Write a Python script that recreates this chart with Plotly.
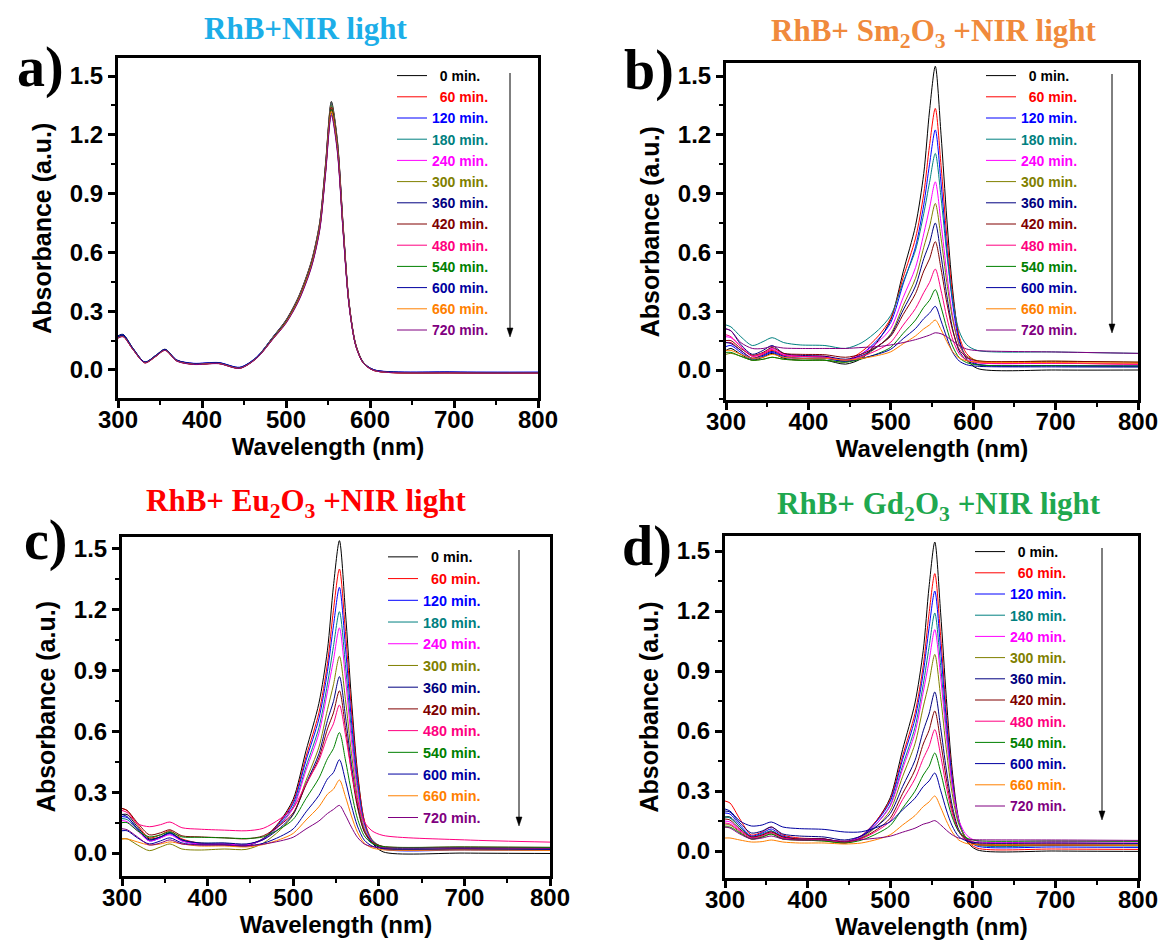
import plotly.graph_objects as go

# ---------------- data ----------------
wavelength = [300, 306, 318, 332, 345, 356, 370, 390, 420, 445, 465, 485, 500,
              515, 530, 540, 547, 554, 561, 568, 575, 583, 592, 605, 700, 800]

times = ["0 min.", "60 min.", "120 min.", "180 min.", "240 min.", "300 min.",
         "360 min.", "420 min.", "480 min.", "540 min.", "600 min.", "660 min.",
         "720 min."]

# panel a) RhB + NIR light
absorbance_a = [
    [0.175, 0.182, 0.110, 0.040, 0.075, 0.106, 0.050, 0.032, 0.036, 0.012, 0.065, 0.172, 0.255, 0.375, 0.552, 0.750, 1.050, 1.370, 1.180, 0.742, 0.350, 0.132, 0.040, 0.000, -0.012, -0.013],
    [0.168, 0.176, 0.106, 0.038, 0.072, 0.104, 0.048, 0.030, 0.034, 0.010, 0.063, 0.170, 0.252, 0.372, 0.548, 0.745, 1.042, 1.360, 1.172, 0.736, 0.346, 0.130, 0.038, -0.002, -0.014, -0.015],
    [0.172, 0.180, 0.109, 0.041, 0.074, 0.105, 0.051, 0.034, 0.038, 0.014, 0.066, 0.171, 0.251, 0.369, 0.543, 0.738, 1.034, 1.350, 1.163, 0.730, 0.343, 0.128, 0.039, 0.001, -0.010, -0.011],
    [0.170, 0.178, 0.108, 0.039, 0.073, 0.104, 0.049, 0.031, 0.035, 0.011, 0.064, 0.169, 0.250, 0.370, 0.546, 0.743, 1.040, 1.360, 1.170, 0.735, 0.345, 0.129, 0.038, -0.001, -0.013, -0.014],
    [0.166, 0.174, 0.105, 0.037, 0.071, 0.102, 0.047, 0.030, 0.034, 0.010, 0.062, 0.166, 0.247, 0.365, 0.538, 0.731, 1.025, 1.340, 1.153, 0.724, 0.341, 0.127, 0.037, -0.002, -0.014, -0.015],
    [0.169, 0.177, 0.107, 0.039, 0.072, 0.103, 0.049, 0.031, 0.035, 0.011, 0.063, 0.168, 0.249, 0.367, 0.541, 0.736, 1.032, 1.350, 1.161, 0.729, 0.343, 0.128, 0.038, -0.001, -0.013, -0.014],
    [0.167, 0.175, 0.106, 0.038, 0.071, 0.103, 0.048, 0.030, 0.034, 0.010, 0.061, 0.164, 0.244, 0.360, 0.532, 0.725, 1.017, 1.330, 1.144, 0.718, 0.338, 0.126, 0.037, -0.002, -0.014, -0.016],
    [0.165, 0.173, 0.104, 0.037, 0.070, 0.101, 0.047, 0.029, 0.033, 0.009, 0.061, 0.165, 0.246, 0.363, 0.536, 0.730, 1.025, 1.340, 1.152, 0.723, 0.340, 0.127, 0.037, -0.003, -0.015, -0.016],
    [0.164, 0.172, 0.104, 0.037, 0.070, 0.101, 0.046, 0.029, 0.033, 0.009, 0.060, 0.162, 0.242, 0.357, 0.528, 0.719, 1.009, 1.320, 1.135, 0.713, 0.336, 0.125, 0.036, -0.003, -0.015, -0.017],
    [0.166, 0.174, 0.105, 0.038, 0.071, 0.102, 0.047, 0.030, 0.034, 0.010, 0.061, 0.164, 0.245, 0.360, 0.532, 0.725, 1.017, 1.330, 1.144, 0.718, 0.338, 0.126, 0.037, -0.002, -0.014, -0.015],
    [0.170, 0.178, 0.108, 0.040, 0.074, 0.104, 0.050, 0.033, 0.037, 0.013, 0.063, 0.163, 0.242, 0.355, 0.525, 0.715, 1.003, 1.310, 1.127, 0.708, 0.334, 0.125, 0.038, 0.000, -0.011, -0.012],
    [0.163, 0.171, 0.103, 0.036, 0.069, 0.100, 0.046, 0.029, 0.033, 0.009, 0.060, 0.162, 0.242, 0.357, 0.528, 0.719, 1.009, 1.320, 1.135, 0.713, 0.336, 0.125, 0.036, -0.003, -0.015, -0.016],
    [0.162, 0.170, 0.103, 0.036, 0.069, 0.100, 0.045, 0.028, 0.032, 0.008, 0.059, 0.160, 0.238, 0.351, 0.520, 0.709, 0.995, 1.300, 1.118, 0.702, 0.331, 0.123, 0.035, -0.003, -0.015, -0.016],
]

# panel b) RhB + Sm2O3 + NIR light
absorbance_b = [
    [0.10, 0.11, 0.08, 0.05, 0.065, 0.085, 0.06, 0.05, 0.05, 0.03, 0.06, 0.152, 0.258, 0.501, 0.737, 1.003, 1.322, 1.55, 1.20, 0.77, 0.412, 0.16, 0.055, 0.008, 0.0, 0.0],
    [0.14, 0.14, 0.10, 0.06, 0.08, 0.10, 0.075, 0.07, 0.07, 0.05, 0.095, 0.174, 0.265, 0.472, 0.673, 0.90, 1.145, 1.335, 1.042, 0.681, 0.382, 0.173, 0.084, 0.045, 0.035, 0.03],
    [0.12, 0.125, 0.09, 0.055, 0.07, 0.09, 0.065, 0.06, 0.06, 0.045, 0.083, 0.158, 0.243, 0.439, 0.629, 0.843, 1.05, 1.225, 0.954, 0.618, 0.34, 0.147, 0.066, 0.03, 0.022, 0.02],
    [0.23, 0.22, 0.17, 0.125, 0.145, 0.165, 0.14, 0.128, 0.125, 0.11, 0.14, 0.205, 0.279, 0.448, 0.612, 0.798, 0.957, 1.105, 0.878, 0.593, 0.361, 0.198, 0.129, 0.10, 0.092, 0.085],
    [0.17, 0.165, 0.12, 0.07, 0.085, 0.11, 0.08, 0.07, 0.068, 0.05, 0.083, 0.144, 0.213, 0.37, 0.523, 0.695, 0.826, 0.96, 0.748, 0.493, 0.277, 0.129, 0.066, 0.039, 0.035, 0.03],
    [0.08, 0.085, 0.07, 0.05, 0.055, 0.065, 0.055, 0.05, 0.05, 0.04, 0.066, 0.122, 0.185, 0.329, 0.468, 0.626, 0.73, 0.85, 0.672, 0.446, 0.261, 0.129, 0.073, 0.048, 0.045, 0.04],
    [0.21, 0.20, 0.13, 0.08, 0.10, 0.125, 0.085, 0.075, 0.07, 0.055, 0.074, 0.123, 0.179, 0.306, 0.429, 0.568, 0.647, 0.75, 0.583, 0.38, 0.211, 0.097, 0.049, 0.028, 0.022, 0.02],
    [0.15, 0.15, 0.11, 0.075, 0.09, 0.115, 0.085, 0.08, 0.078, 0.065, 0.082, 0.125, 0.173, 0.283, 0.39, 0.505, 0.567, 0.655, 0.516, 0.343, 0.203, 0.106, 0.065, 0.047, 0.045, 0.04],
    [0.18, 0.17, 0.12, 0.07, 0.085, 0.105, 0.075, 0.07, 0.065, 0.05, 0.069, 0.104, 0.142, 0.229, 0.314, 0.395, 0.447, 0.515, 0.405, 0.268, 0.158, 0.083, 0.051, 0.037, 0.035, 0.03],
    [0.09, 0.09, 0.07, 0.05, 0.055, 0.065, 0.055, 0.05, 0.05, 0.04, 0.057, 0.085, 0.116, 0.187, 0.255, 0.32, 0.356, 0.41, 0.321, 0.212, 0.122, 0.063, 0.038, 0.026, 0.022, 0.02],
    [0.14, 0.135, 0.10, 0.06, 0.075, 0.095, 0.07, 0.06, 0.06, 0.045, 0.06, 0.082, 0.106, 0.16, 0.212, 0.262, 0.29, 0.325, 0.251, 0.165, 0.091, 0.046, 0.027, 0.019, 0.016, 0.015],
    [0.10, 0.10, 0.08, 0.06, 0.065, 0.08, 0.065, 0.06, 0.06, 0.05, 0.059, 0.075, 0.093, 0.134, 0.174, 0.21, 0.23, 0.255, 0.206, 0.145, 0.094, 0.061, 0.047, 0.041, 0.038, 0.035],
    [0.21, 0.20, 0.14, 0.11, 0.11, 0.12, 0.112, 0.11, 0.11, 0.11, 0.115, 0.12, 0.128, 0.14, 0.155, 0.168, 0.178, 0.19, 0.185, 0.17, 0.148, 0.125, 0.107, 0.099, 0.092, 0.085],
]

# panel c) RhB + Eu2O3 + NIR light
absorbance_c = [
    [0.19, 0.19, 0.13, 0.07, 0.08, 0.10, 0.065, 0.045, 0.04, 0.035, 0.07, 0.16, 0.265, 0.505, 0.738, 1.0, 1.315, 1.54, 1.19, 0.76, 0.405, 0.158, 0.053, 0.006, 0.0, -0.002],
    [0.22, 0.21, 0.14, 0.075, 0.09, 0.11, 0.07, 0.05, 0.045, 0.04, 0.072, 0.156, 0.254, 0.476, 0.691, 0.934, 1.197, 1.40, 1.092, 0.706, 0.386, 0.162, 0.067, 0.025, 0.02, 0.018],
    [0.18, 0.175, 0.12, 0.06, 0.075, 0.095, 0.06, 0.045, 0.045, 0.04, 0.07, 0.151, 0.244, 0.457, 0.662, 0.895, 1.12, 1.31, 1.017, 0.655, 0.357, 0.148, 0.059, 0.02, 0.015, 0.013],
    [0.17, 0.165, 0.115, 0.065, 0.08, 0.10, 0.065, 0.05, 0.048, 0.04, 0.068, 0.143, 0.229, 0.426, 0.618, 0.833, 1.018, 1.19, 0.928, 0.603, 0.334, 0.145, 0.065, 0.03, 0.027, 0.025],
    [0.16, 0.155, 0.11, 0.06, 0.075, 0.09, 0.06, 0.045, 0.045, 0.04, 0.066, 0.139, 0.221, 0.408, 0.59, 0.795, 0.95, 1.11, 0.863, 0.558, 0.308, 0.132, 0.057, 0.024, 0.02, 0.018],
    [0.07, 0.07, 0.04, 0.012, 0.03, 0.045, 0.02, 0.015, 0.02, 0.018, 0.049, 0.115, 0.189, 0.358, 0.522, 0.707, 0.829, 0.97, 0.758, 0.492, 0.274, 0.119, 0.053, 0.024, 0.02, 0.02],
    [0.19, 0.18, 0.12, 0.065, 0.08, 0.10, 0.065, 0.05, 0.05, 0.045, 0.066, 0.125, 0.191, 0.342, 0.489, 0.654, 0.747, 0.87, 0.675, 0.438, 0.241, 0.106, 0.049, 0.023, 0.02, 0.018],
    [0.22, 0.21, 0.15, 0.09, 0.10, 0.115, 0.085, 0.08, 0.075, 0.07, 0.085, 0.139, 0.198, 0.336, 0.469, 0.612, 0.691, 0.80, 0.619, 0.405, 0.227, 0.107, 0.056, 0.033, 0.03, 0.028],
    [0.21, 0.20, 0.145, 0.13, 0.14, 0.153, 0.125, 0.118, 0.113, 0.11, 0.122, 0.17, 0.222, 0.341, 0.456, 0.575, 0.637, 0.73, 0.584, 0.405, 0.257, 0.155, 0.11, 0.087, 0.065, 0.054],
    [0.15, 0.15, 0.11, 0.08, 0.09, 0.105, 0.08, 0.078, 0.075, 0.072, 0.08, 0.121, 0.166, 0.269, 0.369, 0.465, 0.515, 0.594, 0.459, 0.302, 0.171, 0.085, 0.048, 0.032, 0.03, 0.028],
    [0.11, 0.11, 0.075, 0.045, 0.06, 0.075, 0.05, 0.04, 0.04, 0.035, 0.048, 0.082, 0.119, 0.203, 0.284, 0.365, 0.397, 0.46, 0.358, 0.235, 0.133, 0.064, 0.035, 0.022, 0.02, 0.018],
    [0.07, 0.07, 0.055, 0.04, 0.045, 0.055, 0.045, 0.035, 0.035, 0.03, 0.042, 0.068, 0.097, 0.163, 0.228, 0.29, 0.315, 0.36, 0.279, 0.183, 0.103, 0.049, 0.026, 0.016, 0.015, 0.013],
    [0.12, 0.115, 0.08, 0.04, 0.05, 0.065, 0.045, 0.04, 0.04, 0.035, 0.044, 0.06, 0.078, 0.119, 0.158, 0.195, 0.215, 0.235, 0.187, 0.128, 0.078, 0.045, 0.032, 0.026, 0.025, 0.023],
]

# panel d) RhB + Gd2O3 + NIR light
absorbance_d = [
    [0.17, 0.17, 0.12, 0.07, 0.08, 0.10, 0.07, 0.06, 0.06, 0.04, 0.07, 0.16, 0.266, 0.507, 0.74, 1.003, 1.319, 1.545, 1.194, 0.763, 0.406, 0.158, 0.053, 0.006, 0.0, -0.002],
    [0.25, 0.24, 0.16, 0.08, 0.095, 0.12, 0.08, 0.065, 0.06, 0.045, 0.077, 0.16, 0.256, 0.475, 0.688, 0.927, 1.186, 1.387, 1.078, 0.691, 0.371, 0.15, 0.057, 0.015, 0.01, 0.008],
    [0.19, 0.185, 0.13, 0.075, 0.09, 0.11, 0.075, 0.06, 0.06, 0.045, 0.075, 0.155, 0.247, 0.457, 0.66, 0.89, 1.113, 1.30, 1.01, 0.652, 0.358, 0.151, 0.064, 0.025, 0.02, 0.018],
    [0.17, 0.165, 0.12, 0.07, 0.085, 0.10, 0.07, 0.06, 0.055, 0.04, 0.068, 0.143, 0.229, 0.426, 0.618, 0.833, 1.018, 1.19, 0.928, 0.603, 0.334, 0.145, 0.065, 0.03, 0.027, 0.025],
    [0.15, 0.145, 0.105, 0.065, 0.08, 0.095, 0.065, 0.06, 0.055, 0.045, 0.071, 0.143, 0.224, 0.41, 0.591, 0.794, 0.948, 1.107, 0.872, 0.575, 0.33, 0.156, 0.082, 0.049, 0.047, 0.045],
    [0.13, 0.13, 0.095, 0.06, 0.07, 0.085, 0.06, 0.055, 0.05, 0.04, 0.064, 0.129, 0.203, 0.372, 0.536, 0.72, 0.842, 0.983, 0.772, 0.506, 0.288, 0.133, 0.068, 0.039, 0.036, 0.034],
    [0.20, 0.195, 0.14, 0.09, 0.10, 0.12, 0.085, 0.075, 0.07, 0.055, 0.075, 0.128, 0.187, 0.322, 0.453, 0.601, 0.685, 0.795, 0.618, 0.405, 0.228, 0.107, 0.056, 0.033, 0.03, 0.028],
    [0.16, 0.155, 0.11, 0.07, 0.08, 0.095, 0.07, 0.06, 0.06, 0.045, 0.063, 0.111, 0.164, 0.287, 0.405, 0.535, 0.603, 0.70, 0.547, 0.36, 0.206, 0.098, 0.053, 0.033, 0.03, 0.028],
    [0.14, 0.135, 0.10, 0.065, 0.075, 0.09, 0.065, 0.055, 0.055, 0.04, 0.061, 0.103, 0.15, 0.257, 0.361, 0.462, 0.523, 0.607, 0.479, 0.321, 0.19, 0.098, 0.059, 0.042, 0.04, 0.038],
    [0.12, 0.12, 0.09, 0.06, 0.07, 0.085, 0.06, 0.055, 0.05, 0.04, 0.054, 0.089, 0.127, 0.214, 0.299, 0.38, 0.423, 0.49, 0.395, 0.273, 0.17, 0.097, 0.066, 0.052, 0.05, 0.048],
    [0.21, 0.20, 0.15, 0.125, 0.13, 0.145, 0.12, 0.112, 0.108, 0.095, 0.096, 0.12, 0.146, 0.206, 0.264, 0.322, 0.35, 0.39, 0.304, 0.205, 0.126, 0.072, 0.051, 0.041, 0.04, 0.038],
    [0.065, 0.065, 0.055, 0.045, 0.047, 0.055, 0.045, 0.04, 0.04, 0.035, 0.04, 0.059, 0.081, 0.13, 0.177, 0.222, 0.245, 0.275, 0.219, 0.151, 0.095, 0.055, 0.038, 0.031, 0.03, 0.028],
    [0.12, 0.115, 0.085, 0.06, 0.065, 0.075, 0.06, 0.055, 0.055, 0.05, 0.057, 0.065, 0.074, 0.094, 0.114, 0.134, 0.142, 0.152, 0.131, 0.104, 0.081, 0.065, 0.058, 0.056, 0.055, 0.053],
]

panel_titles = ["RhB+NIR light",
                "RhB+ Sm<sub>2</sub>O<sub>3</sub> +NIR light",
                "RhB+ Eu<sub>2</sub>O<sub>3</sub> +NIR light",
                "RhB+ Gd<sub>2</sub>O<sub>3</sub> +NIR light"]
panel_letters = ["a)", "b)", "c)", "d)"]

# ---------------- styling ----------------
line_colors = ["#000000", "#FF0000", "#0000FF", "#008080", "#FF00FF", "#808000",
               "#000080", "#800000", "#FF0080", "#008000", "#0000A0", "#FF8000",
               "#800080"]
title_colors = ["#1CAEE8", "#F08A3C", "#FF0000", "#1FA84F"]
SANS = "Liberation Sans, Arial, sans-serif"
SERIF = "Liberation Serif, Times New Roman, serif"
W, H = 1161, 947

# pixel geometry of the four panels
geom = [
    dict(x0=118, x1=538, y0=58.4, y1=398, yr=[-0.143, 1.59], leg=(392, 60), lfs=14,
         arrow=(510, 73, 337), title=(306, 28), letter=(40, 68)),
    dict(x0=726, x1=1138, y0=63.3, y1=400, yr=[-0.153, 1.565], leg=(981, 60), lfs=14,
         arrow=(1112, 74, 333), title=(934, 33), letter=(649, 70)),
    dict(x0=122, x1=550, y0=537.2, y1=876, yr=[-0.113, 1.557], leg=(383, 541), lfs=14.4,
         arrow=(519, 550, 826), title=(306, 503), letter=(46, 540)),
    dict(x0=725, x1=1138, y0=536.0, y1=878, yr=[-0.135, 1.575], leg=(970, 536), lfs=14,
         arrow=(1102, 548, 820), title=(939, 506), letter=(647, 546)),
]
datasets = [absorbance_a, absorbance_b, absorbance_c, absorbance_d]
pads = {"0 min.": "\u00a0\u00a0", "60 min.": "\u00a0\u00a0"}

fig = go.Figure()
annotations = []
shapes = []
layout = dict(width=W, height=H, margin=dict(l=0, r=0, t=0, b=0),
              paper_bgcolor="white", plot_bgcolor="white", showlegend=True)

for i, (g, data) in enumerate(zip(geom, datasets)):
    sfx = "" if i == 0 else str(i + 1)
    legname = "legend" + sfx
    for t, col, ys in zip(times, line_colors, data):
        fig.add_trace(go.Scatter(
            x=wavelength, y=ys, mode="lines",
            line=dict(color=col, width=1, shape="spline", smoothing=0.8),
            name=f"<span style='color:{col}'>{pads.get(t, '')}{t}</span>",
            xaxis="x" + sfx, yaxis="y" + sfx, legend=legname))
    tickfont = dict(family=SANS, size=24, color="black", weight="bold")
    layout["xaxis" + sfx] = dict(
        domain=[g["x0"] / W, g["x1"] / W], range=[300, 800], anchor="y" + sfx,
        tickmode="linear", tick0=300, dtick=100, ticks="outside", ticklen=7,
        tickwidth=2.5, tickcolor="black", showline=True, linewidth=3,
        linecolor="black", mirror=True, showgrid=False, zeroline=False,
        tickfont=tickfont, automargin=False, ticklabelstandoff=-9,
        minor=dict(ticks="outside", tick0=300, dtick=50, ticklen=4, tickwidth=2,
                   tickcolor="black", showgrid=False),
        title=dict(text="Wavelength (nm)", standoff=3,
                   font=dict(family=SANS, size=24, color="black", weight="bold")))
    layout["yaxis" + sfx] = dict(
        domain=[1 - g["y1"] / H, 1 - g["y0"] / H], range=g["yr"], anchor="x" + sfx,
        tickmode="linear", tick0=0, dtick=0.3, tickformat=".1f", ticks="outside",
        ticklen=7, tickwidth=2.5, tickcolor="black", showline=True, linewidth=3,
        linecolor="black", mirror=True, showgrid=False, zeroline=False,
        tickfont=tickfont, automargin=False,
        minor=dict(ticks="outside", tick0=0, dtick=0.15, ticklen=4, tickwidth=2,
                   tickcolor="black", showgrid=False),
        title=dict(text="Absorbance (a.u.)", standoff=12,
                   font=dict(family=SANS, size=25, color="black", weight="bold")))
    layout[legname] = dict(
        x=g["leg"][0] / W, y=1 - g["leg"][1] / H, xanchor="left", yanchor="top",
        bgcolor="rgba(0,0,0,0)", borderwidth=0, itemwidth=30, traceorder="normal",
        font=dict(family=SANS, size=g["lfs"], color="black", weight="bold"))
    # panel title
    annotations.append(dict(
        text=panel_titles[i], x=g["title"][0] / W, y=1 - g["title"][1] / H,
        xref="paper", yref="paper", xanchor="center", yanchor="middle",
        showarrow=False,
        font=dict(family=SERIF, size=31, color=title_colors[i], weight="bold")))
    # panel letter
    annotations.append(dict(
        text=panel_letters[i], x=g["letter"][0] / W, y=1 - g["letter"][1] / H,
        xref="paper", yref="paper", xanchor="center", yanchor="middle",
        showarrow=False, font=dict(family=SERIF, size=56, color="black", weight="bold")))
    # downward arrow beside the legend (thin line + small filled head)
    ax_x, tail_y, head_y = g["arrow"]
    shapes.append(dict(type="line", xref="paper", yref="paper",
                       x0=ax_x / W, x1=ax_x / W, y0=1 - tail_y / H, y1=1 - (head_y - 6) / H,
                       line=dict(color="black", width=1)))
    shapes.append(dict(type="path", xref="paper", yref="paper",
                       path=(f"M {(ax_x - 3) / W},{1 - (head_y - 9) / H} "
                             f"L {(ax_x + 3) / W},{1 - (head_y - 9) / H} "
                             f"L {ax_x / W},{1 - head_y / H} Z"),
                       fillcolor="black", line=dict(color="black", width=0.5)))

layout["annotations"] = annotations
layout["shapes"] = shapes
fig.update_layout(**layout)

fig.write_html("out.html", config={"displayModeBar": False},
               post_script="document.body.style.margin='0';document.body.style.overflow='hidden';")
